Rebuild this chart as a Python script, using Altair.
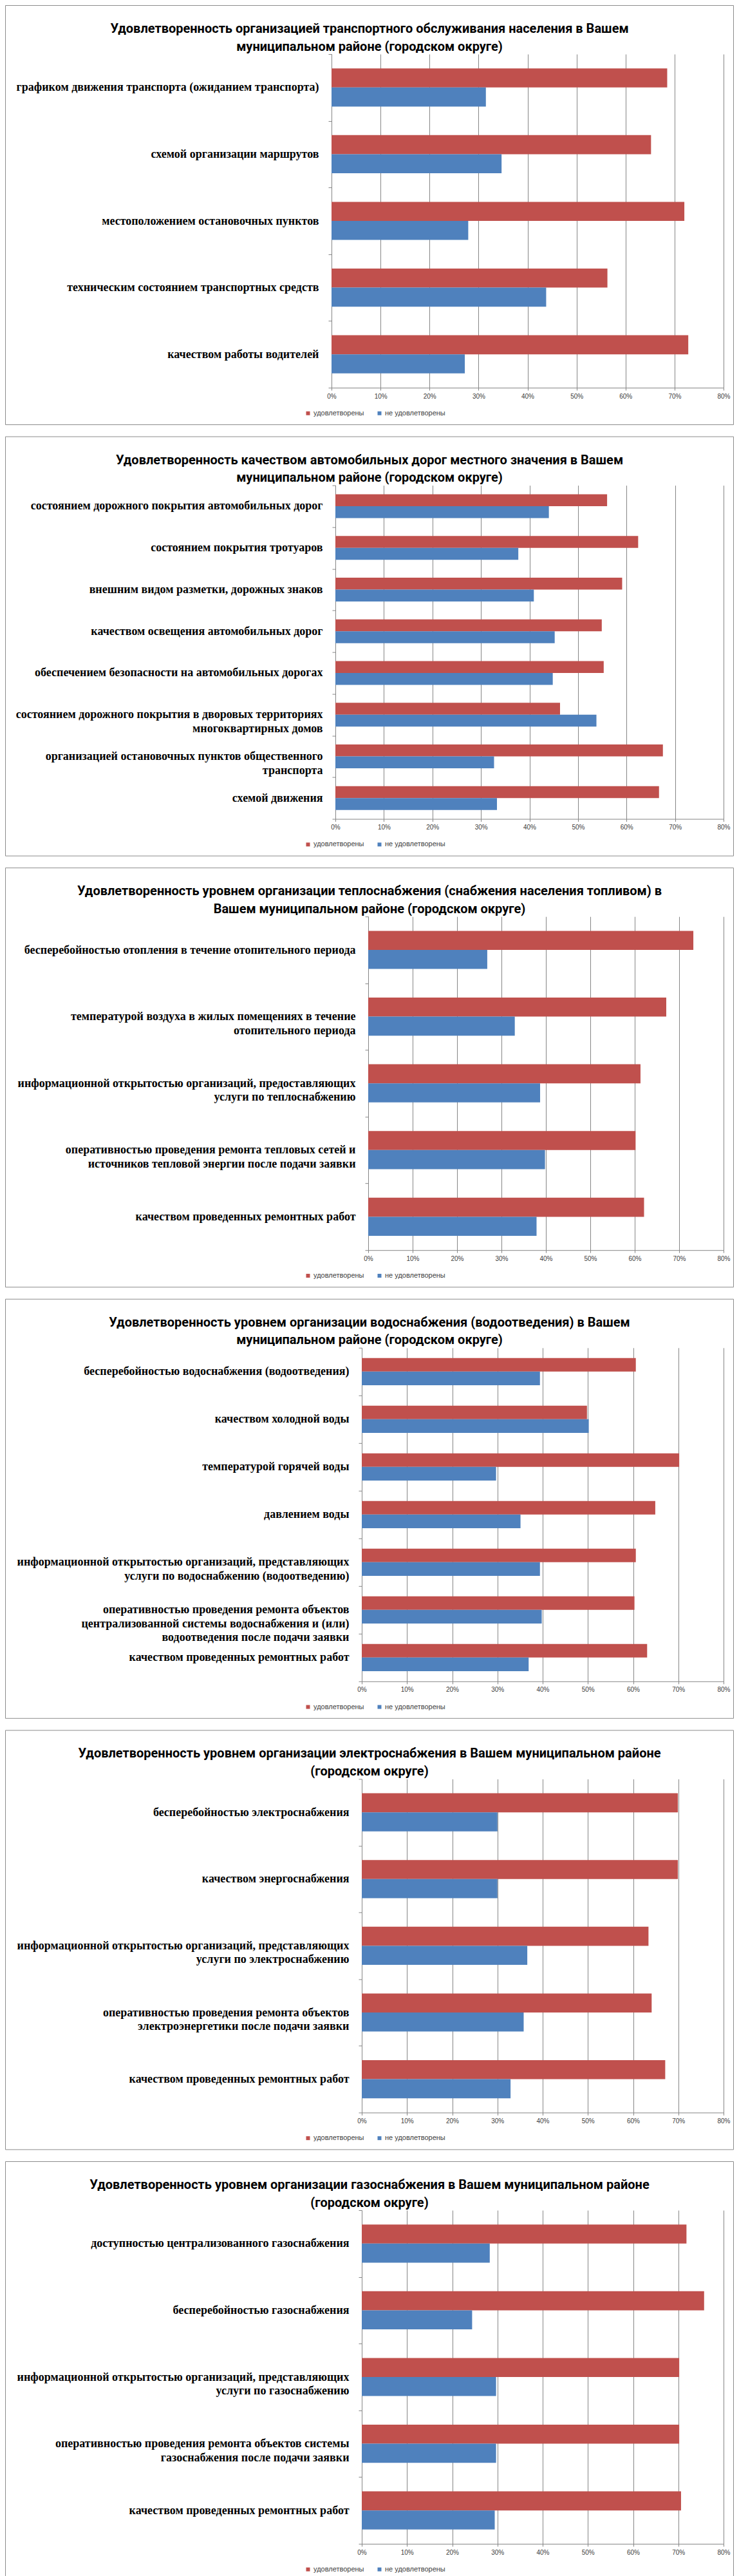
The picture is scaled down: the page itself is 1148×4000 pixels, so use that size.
import altair as alt
import pandas as pd

SAT = "удовлетворены"
UNSAT = "не удовлетворены"
RED = "#C0504D"
BLUE = "#4F81BD"
GRAY = "#868686"

# ---------------- data ----------------
p1_title = ["Удовлетворенность организацией транспортного обслуживания населения в Вашем",
            "муниципальном районе (городском округе)"]
p1_cats = ["графиком движения транспорта (ожиданием транспорта)",
           "схемой организации маршрутов",
           "местоположением остановочных пунктов",
           "техническим состоянием транспортных средств",
           "качеством работы водителей"]
p1_sat = [68.5, 65.2, 72.0, 56.3, 72.8]
p1_unsat = [31.5, 34.7, 27.9, 43.8, 27.2]

p2_title = ["Удовлетворенность качеством автомобильных дорог местного значения в Вашем",
            "муниципальном районе (городском округе)"]
p2_cats = ["состоянием дорожного покрытия автомобильных дорог",
           "состоянием покрытия тротуаров",
           "внешним видом разметки, дорожных знаков",
           "качеством освещения автомобильных дорог",
           "обеспечением безопасности на автомобильных дорогах",
           "состоянием дорожного покрытия в дворовых территориях|многоквартирных домов",
           "организацией остановочных пунктов общественного|транспорта",
           "схемой движения"]
p2_sat = [56.0, 62.4, 59.1, 54.9, 55.3, 46.3, 67.5, 66.7]
p2_unsat = [44.0, 37.7, 40.9, 45.2, 44.8, 53.8, 32.7, 33.3]

p3_title = ["Удовлетворенность уровнем организации теплоснабжения (снабжения населения топливом) в",
            "Вашем муниципальном районе (городском округе)"]
p3_cats = ["бесперебойностью отопления в течение отопительного периода",
           "температурой воздуха в жилых помещениях в течение|отопительного периода",
           "информационной открытостью организаций, предоставляющих|услуги по теплоснабжению",
           "оперативностью проведения ремонта тепловых сетей и|источников тепловой энергии после подачи заявки",
           "качеством проведенных ремонтных работ"]
p3_sat = [73.2, 67.1, 61.3, 60.2, 62.1]
p3_unsat = [26.8, 33.0, 38.7, 39.8, 37.9]

p4_title = ["Удовлетворенность уровнем организации водоснабжения (водоотведения) в Вашем",
            "муниципальном районе (городском округе)"]
p4_cats = ["бесперебойностью водоснабжения (водоотведения)",
           "качеством холодной воды",
           "температурой горячей воды",
           "давлением воды",
           "информационной открытостью организаций, представляющих|услуги по водоснабжению (водоотведению)",
           "оперативностью проведения ремонта объектов|централизованной системы водоснабжения и (или)|водоотведения после подачи заявки",
           "качеством проведенных ремонтных работ"]
p4_sat = [60.6, 49.8, 70.2, 64.9, 60.6, 60.3, 63.1]
p4_unsat = [39.4, 50.2, 29.7, 35.1, 39.4, 39.8, 36.9]

p5_title = ["Удовлетворенность уровнем организации электроснабжения в Вашем муниципальном районе",
            "(городском округе)"]
p5_cats = ["бесперебойностью электроснабжения",
           "качеством энергоснабжения",
           "информационной открытостью организаций, представляющих|услуги по электроснабжению",
           "оперативностью проведения ремонта объектов|электроэнергетики после подачи заявки",
           "качеством проведенных ремонтных работ"]
p5_sat = [69.9, 69.9, 63.4, 64.1, 67.1]
p5_unsat = [30.0, 30.0, 36.6, 35.8, 32.9]

p6_title = ["Удовлетворенность уровнем организации газоснабжения в Вашем муниципальном районе",
            "(городском округе)"]
p6_cats = ["доступностью централизованного газоснабжения",
           "бесперебойностью газоснабжения",
           "информационной открытостью организаций, представляющих|услуги по газоснабжению",
           "оперативностью проведения ремонта объектов системы|газоснабжения после подачи заявки",
           "качеством проведенных ремонтных работ"]
p6_sat = [71.8, 75.7, 70.2, 70.2, 70.6]
p6_unsat = [28.3, 24.4, 29.7, 29.7, 29.4]

x_ticks = [0, 0.1, 0.2, 0.3, 0.4, 0.5, 0.6, 0.7, 0.8]

# ---------------- layout ----------------
W = 1132          # panel (frame) width
FRAME_H = 651     # panel (frame) height
TOP = 75.5        # frame top to plot top
H = 518           # plot height
RIGHT = 1116      # x position of 80%


def panel(title, cats, sat, unsat, x0):
    df = pd.DataFrame({
        "cat": cats + cats,
        "series": [SAT] * len(cats) + [UNSAT] * len(cats),
        "value": [v / 100 for v in sat] + [v / 100 for v in unsat],
    })
    frame = alt.Chart(alt.Data(values=[{"f": 1}])).mark_rect(
        fill="white", fillOpacity=0, stroke="#8c8c8c", strokeWidth=1
    ).encode(
        x=alt.value(0.5), x2=alt.value(W - 0.5),
        y=alt.value(-TOP), y2=alt.value(FRAME_H - TOP),
    )
    head = alt.Chart(alt.Data(values=[{"f": 1}])).mark_text(
        font="Roboto", fontSize=20, fontWeight="bold", color="black",
        align="center", baseline="middle", lineHeight=27.5
    ).encode(
        x=alt.value(W / 2), y=alt.value(-TOP + 36.5), text=alt.value(title)
    )
    bars = alt.Chart(df).mark_bar().encode(
        x=alt.X("value:Q",
                scale=alt.Scale(domain=[0, 0.8], range=[x0, RIGHT], nice=False),
                axis=alt.Axis(title=None, values=x_ticks, format=".0%",
                              labelFont="Liberation Sans", labelFontSize=10,
                              labelColor="#404040", labelPadding=4,
                              tickSize=4, tickColor=GRAY, domainColor=GRAY,
                              grid=True, gridColor=GRAY, labelFlush=False)),
        y=alt.Y("cat:N", sort=cats,
                scale=alt.Scale(paddingInner=0, paddingOuter=0),
                axis=alt.Axis(title=None, orient="left", offset=-x0,
                              labelFont="Liberation Serif", labelFontWeight="bold",
                              labelFontSize=18, labelColor="black", labelLimit=800,
                              labelPadding=15, labelLineHeight=21.6,
                              labelExpr="split(datum.label, '|')",
                              tickBand="extent", tickSize=5, tickColor=GRAY,
                              domainColor=GRAY, grid=False)),
        yOffset=alt.YOffset("series:N", sort=[SAT, UNSAT],
                            scale=alt.Scale(domain=[SAT, UNSAT], paddingInner=0, paddingOuter=0.75)),
        color=alt.Color("series:N",
                        scale=alt.Scale(domain=[SAT, UNSAT], range=[RED, BLUE]),
                        legend=alt.Legend(orient="none", legendX=465, legendY=552,
                                          direction="horizontal", title=None,
                                          symbolType="square", symbolSize=36,
                                          symbolStrokeWidth=0,
                                          labelFont="Liberation Sans", labelFontSize=11,
                                          labelColor="#404040", columnPadding=18,
                                          labelOffset=3, padding=0)),
    )
    return alt.layer(frame, head, bars).properties(width=W, height=H)


panels = [
    panel(p1_title, p1_cats, p1_sat, p1_unsat, 507),
    panel(p2_title, p2_cats, p2_sat, p2_unsat, 513),
    panel(p3_title, p3_cats, p3_sat, p3_unsat, 564),
    panel(p4_title, p4_cats, p4_sat, p4_unsat, 554),
    panel(p5_title, p5_cats, p5_sat, p5_unsat, 554),
    panel(p6_title, p6_cats, p6_sat, p6_unsat, 554),
]

chart = alt.vconcat(*panels, spacing=17.6).resolve_scale(
    x="independent", y="independent", yOffset="independent", color="independent"
).resolve_legend(color="independent").properties(
    padding=0, background="white"
).configure_view(strokeWidth=0)

chart.save("out.html", embed_options={"renderer": "svg", "actions": False})
